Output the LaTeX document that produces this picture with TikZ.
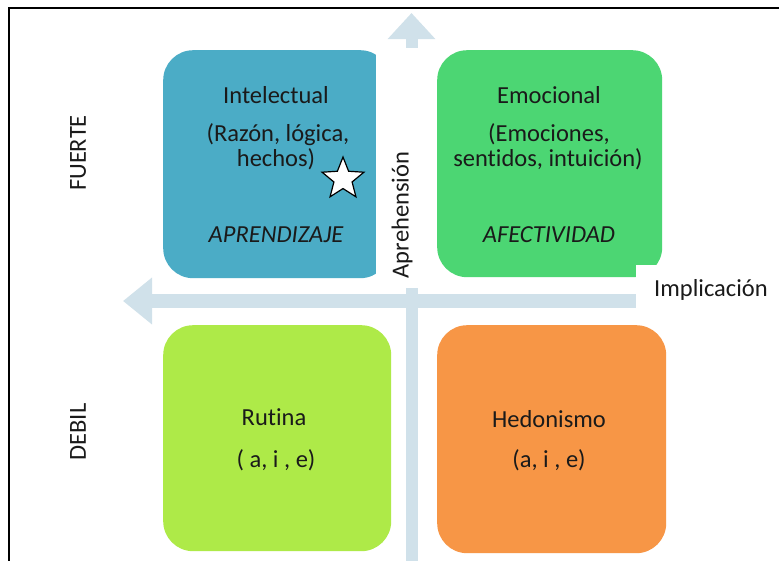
\documentclass[tikz,border=0pt]{standalone}
\usepackage{fontspec}
\setmainfont[Ligatures=NoCommon]{Carlito}
\usetikzlibrary{shapes.geometric,arrows.meta}
\definecolor{cblue}{HTML}{4BACC6}
\definecolor{cgreen}{HTML}{4CD673}
\definecolor{clime}{HTML}{AEEA48}
\definecolor{corange}{HTML}{F79646}
\definecolor{caxis}{HTML}{D0E1EA}
\definecolor{ctext}{HTML}{1A1A1A}
\begin{document}
\begin{tikzpicture}[x=1pt,y=-1pt,
  quad/.style={rectangle, rounded corners=30pt, anchor=north west, inner sep=0pt, draw=none},
  cover/.style={rectangle, fill=white, draw=none, anchor=north west, inner sep=0pt},
  axis/.style={draw=caxis},
  lbl/.style={text=ctext, font=\fontsize{24.5}{27}\selectfont, anchor=base, inner sep=0pt},
  side/.style={text=ctext, font=\fontsize{24.5}{27}\selectfont, rotate=90, inner sep=0pt}]
\clip (0,0) rectangle (779,560);
\fill[white] (0,0) rectangle (779,560);
% quadrant boxes
\node[quad, fill=cblue, minimum width=227pt, minimum height=228pt] (intel) at (163,50) {};
\node[quad, fill=cgreen, minimum width=225pt, minimum height=227pt] (emoc) at (437,50) {};
\node[quad, fill=clime, minimum width=228pt, minimum height=226pt] (rut) at (163,325) {};
\node[quad, fill=corange, minimum width=229pt, minimum height=228pt] (hed) at (437,325) {};
% axes
\coordinate (hs) at (636,301);
\coordinate (ht) at (123,301);
\coordinate (vs) at (411.5,570);
\coordinate (vt) at (411.5,13);
\draw[axis, line width=14pt, -{Triangle[width=45pt,length=29pt]}] (hs) -- (ht);
\draw[axis, line width=12pt, -{Triangle[width=46pt,length=26pt]}] (vs) -- (vt);
% white label covers
\node[cover, minimum width=56pt, minimum height=240pt] (apcov) at (376,48) {};
\node[cover, minimum width=150pt, minimum height=55pt] (imcov) at (636,265) {};
% frame
\draw[line width=2pt, black] (9,600) -- (9,8) -- (800,8);
% texts
\node[lbl] (t1) at (276,103) {Intelectual};
\node[lbl] (t2) at (278,141) {(Razón, lógica,};
\node[lbl] (t3) at (276,166) {hechos)};
\node[lbl, font=\fontsize{24.5}{27}\selectfont\itshape] (t4) at (276,242) {APRENDIZAJE};
\node[star, star points=5, star point ratio=2.3, draw=black, fill=white, line width=1.2pt, minimum size=44pt, inner sep=0pt] (star) at (343,179) {};
\node[lbl] (e1) at (549,103) {Emocional};
\node[lbl] (e2) at (549,141) {(Emociones,};
\node[lbl] (e3) at (548,166) {sentidos, intuición)};
\node[lbl, font=\fontsize{24.5}{27}\selectfont\itshape] (e4) at (549,242) {AFECTIVIDAD};
\node[lbl] (r1) at (274,425) {Rutina};
\node[lbl] (r2) at (276,467) {( a, i , e)};
\node[lbl] (h1) at (549,427) {Hedonismo};
\node[lbl] (h2) at (549,467) {(a, i , e)};
\node[side] (fu) at (78,153) {FUERTE};
\node[side] (de) at (78,432) {DEBIL};
\node[side] (ap) at (402,215) {Aprehensión};
\node[lbl, anchor=center] (im) at (711,290) {Implicación};
\end{tikzpicture}
\end{document}
